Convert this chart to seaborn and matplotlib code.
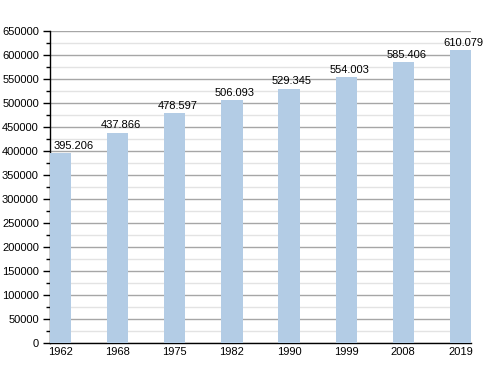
import pandas as pd
import numpy as np
import matplotlib
matplotlib.use("Agg")
import matplotlib.pyplot as plt
import seaborn as sns
from matplotlib.ticker import MultipleLocator

# --- data ---
years = ["1962", "1968", "1975", "1982", "1990", "1999", "2008", "2019"]
population = [395206, 437866, 478597, 506093, 529345, 554003, 585406, 610079]
labels = ["395.206", "437.866", "478.597", "506.093", "529.345", "554.003", "585.406", "610.079"]

df = pd.DataFrame({"year": years, "pop": population})

sns.set_style("white")
plt.rcParams["font.family"] = ["Liberation Sans", "DejaVu Sans"]
plt.rcParams["text.color"] = "black"
plt.rcParams["xtick.color"] = "black"
plt.rcParams["ytick.color"] = "black"

fig = plt.figure(figsize=(5, 3.73), dpi=100)
ax = fig.add_axes([0.1, 0.0804, 0.842, 0.8366])

sns.barplot(data=df, x="year", y="pop", color="#b3cce5", width=0.37,
            saturation=1, linewidth=0, edgecolor="none", ax=ax, zorder=3)

ax.set_ylim(0, 650000)
ax.set_xlim(-0.185, 7.185)
ax.yaxis.set_major_locator(MultipleLocator(50000))
ax.yaxis.set_minor_locator(MultipleLocator(25000))
ax.grid(axis="y", which="major", color="#a6a6a6", linewidth=1, zorder=0)
ax.grid(axis="y", which="minor", color="#e3e3e3", linewidth=1, zorder=0)
ax.set_axisbelow(True)

for s in ["top", "right"]:
    ax.spines[s].set_visible(False)
for s in ["left", "bottom"]:
    ax.spines[s].set_color("black")
    ax.spines[s].set_linewidth(1)

ax.tick_params(axis="y", which="major", length=5, width=1, color="black",
               labelsize=8, left=True, pad=3)
ax.tick_params(axis="y", which="minor", length=3, width=1, color="black", left=True)
ax.tick_params(axis="x", length=0, labelsize=8, pad=3)
ax.set_yticklabels([f"{int(v)}" for v in ax.get_yticks()])
ax.set_xlabel("")
ax.set_ylabel("")

for i, (v, lab) in enumerate(zip(population, labels)):
    dx = 0.22 if i == 0 else 0.05
    ax.text(i + dx, v + 5000, lab, ha="center", va="bottom", fontsize=8, zorder=4)

fig.savefig("out.png", dpi=100)
